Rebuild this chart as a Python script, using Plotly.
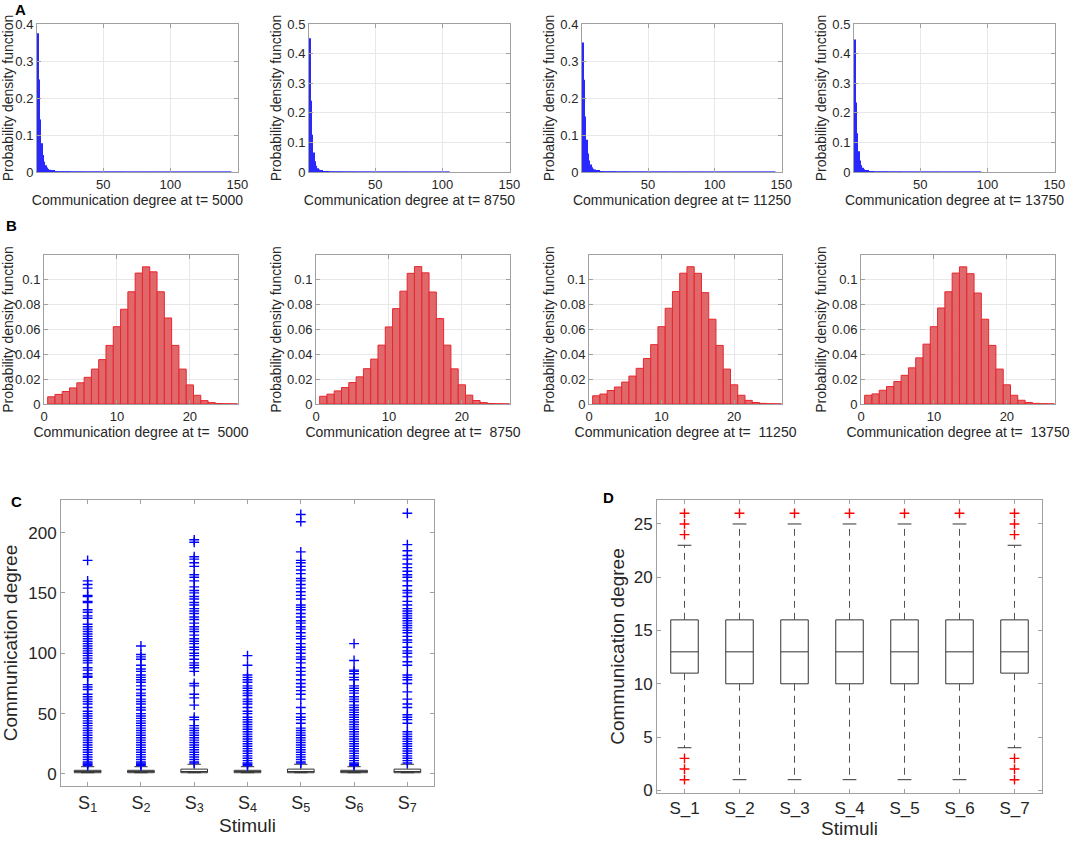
import plotly.graph_objects as go

W, H = 1073, 844
FONT = "Liberation Sans, Arial, sans-serif"
INK = "#262626"

# ---- panel A: pdf of communication degree (blue), degrees 1..15 then 10-wide tail bins
a_times = [5000, 8750, 11250, 13750]
a_deg = [1, 2, 3, 4, 5, 6, 7, 8, 9, 10, 11, 12, 13, 14, 15]
a_head = [
    [0.375, 0.25, 0.142, 0.078, 0.046, 0.028, 0.018, 0.012, 0.0085, 0.006, 0.0045, 0.0035, 0.0028, 0.0022, 0.0018],
    [0.452, 0.241, 0.126, 0.066, 0.036, 0.021, 0.013, 0.0085, 0.0058, 0.0042, 0.0032, 0.0025, 0.002, 0.0016, 0.0013],
    [0.35, 0.249, 0.15, 0.087, 0.05, 0.031, 0.02, 0.013, 0.009, 0.0065, 0.0048, 0.0037, 0.003, 0.0024, 0.0019],
    [0.448, 0.235, 0.131, 0.07, 0.039, 0.023, 0.014, 0.009, 0.0062, 0.0045, 0.0034, 0.0026, 0.002, 0.0016, 0.0013],
]
a_tail_centers = [20.5, 30.5, 40.5, 50.5, 60.5, 70.5, 80.5, 90.5, 100.5, 110.5, 120.5, 130.5, 140.5]
a_tail = [
    [0.0011, 0.0006, 0.0004, 0.0003, 0.0003, 0.0002, 0.0002, 0.0002, 0.0001, 0.0001, 0.0001, 0.0001, 0.0001],
    [0.0009, 0.0005, 0.0003, 0.0002, 0.0002, 0.0002, 0.0001, 0.0001, 0.0001],
    [0.0012, 0.0007, 0.0004, 0.0003, 0.0003, 0.0002, 0.0002, 0.0002, 0.0001, 0.0001, 0.0001, 0.0001, 0.0001],
    [0.0009, 0.0005, 0.0003, 0.0002, 0.0002, 0.0001, 0.0001, 0.0001],
]
a_ymax = [0.4, 0.5, 0.4, 0.5]

# ---- panel B: pdf of communication degree (red)
b_deg = [1, 2, 3, 4, 5, 6, 7, 8, 9, 10, 11, 12, 13, 14, 15, 16, 17, 18, 19, 20, 21, 22, 23, 24, 25, 26]
b_pdf = [
    [0.0058, 0.0077, 0.010, 0.0129, 0.017, 0.0214, 0.028, 0.0356, 0.047, 0.062, 0.076, 0.090, 0.105, 0.110,
     0.106, 0.090, 0.069, 0.047, 0.028, 0.0153, 0.007, 0.0027, 0.0011, 0.0004, 0.0002, 0.0001],
    [0.0062, 0.0079, 0.0105, 0.0132, 0.0172, 0.0218, 0.0283, 0.036, 0.0472, 0.0618, 0.0765, 0.0905, 0.1048, 0.1102,
     0.1052, 0.0898, 0.0685, 0.0472, 0.0282, 0.0154, 0.0071, 0.0028, 0.0011, 0.0004, 0.0002, 0.0001],
    [0.0066, 0.008, 0.0108, 0.0136, 0.0176, 0.0224, 0.0286, 0.0365, 0.0476, 0.062, 0.0768, 0.0902, 0.1049, 0.1101,
     0.1048, 0.0893, 0.068, 0.047, 0.028, 0.0154, 0.007, 0.0029, 0.0012, 0.0005, 0.0002, 0.0001],
    [0.0070, 0.0081, 0.011, 0.014, 0.018, 0.023, 0.029, 0.037, 0.048, 0.062, 0.077, 0.090, 0.105, 0.110,
     0.1045, 0.089, 0.068, 0.047, 0.028, 0.0154, 0.007, 0.003, 0.0012, 0.0005, 0.0002, 0.0001],
]

# ---- panel C: box plots per stimulus (spiking model)
c_labels = ["S<sub>1</sub>", "S<sub>2</sub>", "S<sub>3</sub>", "S<sub>4</sub>", "S<sub>5</sub>", "S<sub>6</sub>", "S<sub>7</sub>"]
c_q1 = [1, 1, 1, 1, 1, 1, 1]
c_med = [2, 2, 2, 2, 2, 2, 2]
c_q3 = [3, 3, 4, 3, 4, 3, 4]
c_low = [1, 1, 1, 1, 1, 1, 1]
c_up = [6, 6, 8, 6, 8, 6, 8]
c_out = [
    [177, 160, 157, 154, 148, 147, 143, 142, 136, 134, 131, 129, 124, 122, 120, 118, 116, 114, 112, 110, 108, 106,
     104, 102, 100, 98, 96, 94, 92, 88, 86, 83, 81, 80, 74, 72, 70, 66, 64, 62, 60, 58, 55, 52, 50, 48, 46, 44, 42,
     40, 38, 36, 34, 32, 30, 28, 26, 24, 22, 20, 18, 16, 14, 12, 10, 9, 8, 7],
    [106, 99, 97, 95, 90, 87, 85, 82, 80, 78, 76, 73, 70, 67, 65, 62, 60, 58, 55, 53, 50, 48, 46, 44, 42, 40, 38,
     36, 34, 32, 30, 28, 26, 24, 22, 20, 18, 16, 14, 12, 10, 9, 8, 7],
    [194, 192, 180, 178, 175, 172, 165, 163, 160, 155, 152, 150, 147, 145, 142, 140, 137, 135, 133, 130, 128, 125,
     122, 120, 118, 115, 112, 110, 108, 105, 103, 100, 98, 95, 92, 90, 88, 85, 75, 73, 66, 63, 57, 47, 45, 40, 38,
     36, 34, 32, 30, 28, 26, 24, 22, 20, 18, 16, 14, 12, 10, 9],
    [98, 90, 82, 80, 78, 76, 73, 71, 69, 67, 65, 62, 60, 58, 55, 52, 50, 47, 45, 43, 41, 39, 37, 35, 33, 31, 29,
     27, 25, 23, 21, 19, 17, 15, 13, 11, 9, 8, 7],
    [215, 209, 184, 177, 175, 172, 169, 166, 162, 160, 157, 154, 151, 148, 145, 140, 138, 136, 133, 130, 127, 125,
     122, 120, 117, 114, 112, 108, 105, 103, 100, 97, 95, 92, 88, 85, 82, 78, 75, 72, 69, 66, 62, 55, 50, 47, 45,
     42, 38, 36, 34, 32, 30, 28, 26, 24, 22, 20, 18, 16, 14, 12, 10, 9],
    [108, 94, 86, 85, 83, 80, 78, 73, 71, 69, 67, 64, 62, 60, 57, 55, 53, 51, 49, 47, 45, 43, 41, 39, 37, 35, 33,
     31, 29, 27, 25, 23, 21, 19, 17, 15, 13, 11, 9, 8, 7],
    [216, 190, 185, 181, 178, 174, 171, 168, 165, 163, 160, 156, 152, 150, 147, 143, 140, 137, 135, 133, 131, 129,
     127, 125, 123, 121, 119, 117, 114, 111, 109, 105, 102, 100, 97, 93, 90, 82, 80, 78, 75, 68, 62, 58, 55, 49,
     47, 45, 42, 35, 33, 31, 29, 27, 25, 23, 21, 19, 17, 15, 13, 11, 9],
]

# ---- panel D: box plots per stimulus (rate model)
d_labels = ["S_1", "S_2", "S_3", "S_4", "S_5", "S_6", "S_7"]
d_q1 = [11, 10, 10, 10, 10, 10, 11]
d_med = [13, 13, 13, 13, 13, 13, 13]
d_q3 = [16, 16, 16, 16, 16, 16, 16]
d_low = [4, 1, 1, 1, 1, 1, 4]
d_up = [23, 25, 25, 25, 25, 25, 23]
d_out = [
    [1, 2, 3, 24, 25, 26],
    [26], [26], [26], [26], [26],
    [1, 2, 3, 24, 25, 26],
]


def dom(x0, x1, y0, y1):
    return [x0 / W, x1 / W], [1 - y1 / H, 1 - y0 / H]


a_px = [(37, 238), (309, 510), (582, 782), (854, 1055)]
b_px = [(44, 238), (316, 510), (589, 782), (861, 1055)]

fig = go.Figure()
layout = {}


def frame(grid, size):
    return dict(showline=True, linecolor="#a0a0a0", linewidth=1, mirror="ticks",
                ticks="inside", ticklen=4, tickcolor="#a0a0a0", automargin=False,
                showgrid=grid, gridcolor="#e8e8e8", zeroline=False,
                tickfont=dict(family=FONT, size=size, color=INK))


for i in range(4):
    n = i + 1
    sx = "" if n == 1 else str(n)
    fig.add_trace(go.Bar(x=a_deg, y=a_head[i], width=1, xaxis="x" + sx, yaxis="y" + sx,
                         marker=dict(color="rgb(40,40,255)", line=dict(width=0))))
    fig.add_trace(go.Bar(x=a_tail_centers[:len(a_tail[i])], y=a_tail[i], width=10, xaxis="x" + sx, yaxis="y" + sx,
                         marker=dict(color="rgb(40,40,255)", line=dict(color="#3030ff", width=0.8))))
    xd, yd = dom(a_px[i][0], a_px[i][1], 24, 172)
    layout["xaxis" + sx] = dict(frame(True, 13), domain=xd, anchor="y" + sx, range=[0.5, 150.5],
                                tickvals=[50, 100, 150],
                                title=dict(text="Communication degree at t= %d" % a_times[i], standoff=2,
                                           font=dict(family=FONT, size=14, color=INK)))
    layout["yaxis" + sx] = dict(frame(True, 13), domain=yd, anchor="x" + sx, range=[0, a_ymax[i]], dtick=0.1,
                                title=dict(text="Probability density function", standoff=2,
                                           font=dict(family=FONT, size=14, color=INK)))

for i in range(4):
    n = i + 5
    sx = str(n)
    fig.add_trace(go.Bar(x=b_deg, y=b_pdf[i], width=1, xaxis="x" + sx, yaxis="y" + sx,
                         marker=dict(color="rgba(222,88,90,0.9)", line=dict(color="#e8262e", width=1))))
    xd, yd = dom(b_px[i][0], b_px[i][1], 255, 404)
    layout["xaxis" + sx] = dict(frame(True, 13), domain=xd, anchor="y" + sx, range=[0, 26.6],
                                tickvals=[0, 10, 20],
                                title=dict(text="Communication degree at t=\u00a0 %d" % a_times[i], standoff=2,
                                           font=dict(family=FONT, size=14, color=INK)))
    layout["yaxis" + sx] = dict(frame(True, 13), domain=yd, anchor="x" + sx, range=[0, 0.1195],
                                tickvals=[0, 0.02, 0.04, 0.06, 0.08, 0.1],
                                ticktext=["0", "0.02", "0.04", "0.06", "0.08", "0.1"],
                                title=dict(text="Probability density function", standoff=2,
                                           font=dict(family=FONT, size=14, color=INK)))


def boxes(pos, q1, med, q3, low, up, out, out_color, ax, ay, wcolor):
    # box body only; whiskers are drawn dashed separately
    fig.add_trace(go.Box(x=pos, q1=q1, median=med, q3=q3, lowerfence=q1, upperfence=q3,
                         width=0.5, whiskerwidth=0, boxpoints=False, fillcolor="rgba(0,0,0,0)",
                         line=dict(color="#333333", width=1), xaxis=ax, yaxis=ay))
    wx, wy, cx, cy = [], [], [], []
    for p, a, b, c, d in zip(pos, q1, q3, low, up):
        wx += [p, p, None, p, p, None]
        wy += [b, d, None, a, c, None]
        cx += [p - 0.125, p + 0.125, None, p - 0.125, p + 0.125, None]
        cy += [d, d, None, c, c, None]
    fig.add_trace(go.Scatter(x=wx, y=wy, mode="lines", xaxis=ax, yaxis=ay,
                             line=dict(color=wcolor, width=1, dash="7px,5px")))
    fig.add_trace(go.Scatter(x=cx, y=cy, mode="lines", xaxis=ax, yaxis=ay,
                             line=dict(color="#333333", width=1)))
    ox, oy = [], []
    for p, vals in zip(pos, out):
        ox += [p] * len(vals)
        oy += vals
    fig.add_trace(go.Scatter(x=ox, y=oy, mode="markers", xaxis=ax, yaxis=ay,
                             marker=dict(symbol="cross-thin", size=7, color=out_color,
                                         line=dict(color=out_color, width=1.4))))


pos = [1, 2, 3, 4, 5, 6, 7]
boxes(pos, c_q1, c_med, c_q3, c_low, c_up, c_out, "#0000ff", "x9", "y9", "#333333")
boxes(pos, d_q1, d_med, d_q3, d_low, d_up, d_out, "#ff0000", "x10", "y10", "#555555")

xd, yd = dom(61, 434, 500, 786)
layout["xaxis9"] = dict(frame(False, 18), domain=xd, anchor="y9", range=[0.5, 7.5],
                        tickvals=pos, ticktext=c_labels,
                        title=dict(text="Stimuli", standoff=2, font=dict(family=FONT, size=19, color=INK)))
layout["yaxis9"] = dict(frame(False, 17), domain=yd, anchor="x9", range=[-10, 227],
                        tickvals=[0, 50, 100, 150, 200],
                        title=dict(text="Communication degree", standoff=6, font=dict(family=FONT, size=19, color=INK)))
xd, yd = dom(657, 1042, 500, 793)
layout["xaxis10"] = dict(frame(False, 17), domain=xd, anchor="y10", range=[0.5, 7.5],
                         tickvals=pos, ticktext=d_labels,
                         title=dict(text="Stimuli", standoff=2, font=dict(family=FONT, size=19, color=INK)))
layout["yaxis10"] = dict(frame(False, 17), domain=yd, anchor="x10", range=[-0.25, 27.25],
                         tickvals=[0, 5, 10, 15, 20, 25],
                         title=dict(text="Communication degree", standoff=4, font=dict(family=FONT, size=19, color=INK)))

letters = [("A", 20, 10), ("B", 11, 225), ("C", 16, 501), ("D", 608, 497)]
annotations = [dict(text="<b>%s</b>" % t, x=x / W, y=1 - y / H, xref="paper", yref="paper",
                    showarrow=False, xanchor="center", yanchor="middle",
                    font=dict(family=FONT, size=15, color="#000000")) for t, x, y in letters]

fig.update_layout(width=W, height=H, margin=dict(l=0, r=0, t=0, b=0),
                  paper_bgcolor="white", plot_bgcolor="white", showlegend=False,
                  barmode="overlay", annotations=annotations, **layout)

# drop the default 8px page margin so the figure sits at the window's corner
fig.write_html("out.html", config={"displayModeBar": False},
               post_script="document.body.style.margin='0';")
